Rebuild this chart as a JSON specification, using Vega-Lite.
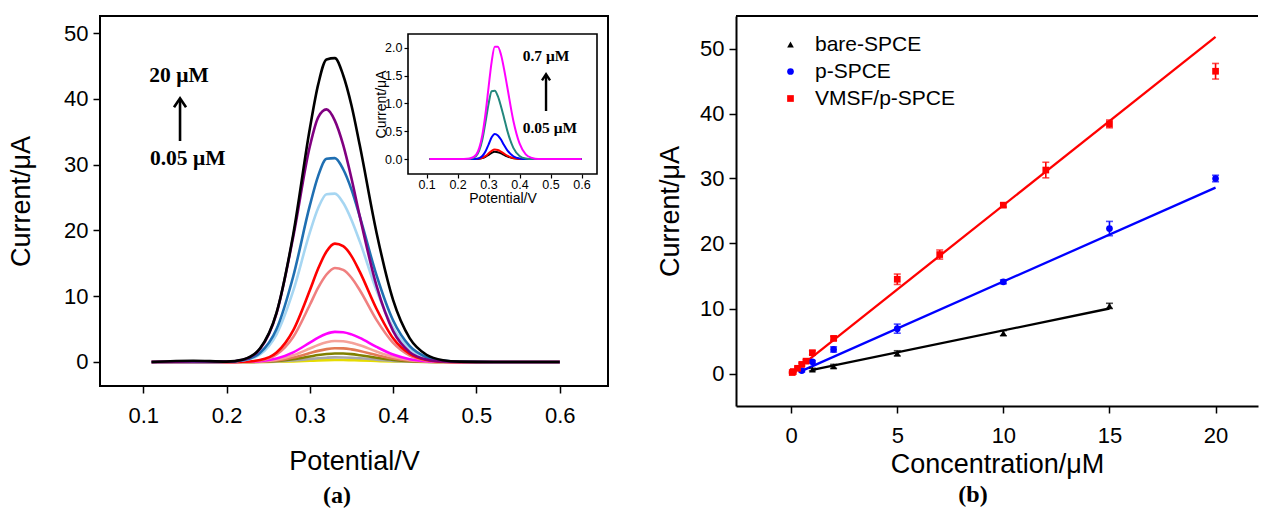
{
  "$schema": "https://vega.github.io/schema/vega-lite/v6.json",
  "background": "white",
  "padding": {"left": 6, "top": 15, "right": 0, "bottom": 0},
  "spacing": 47,
  "config": {
    "font": "Liberation Sans",
    "axis": {"grid": false, "labelFont": "Liberation Sans", "titleFont": "Liberation Sans", "labelColor": "#000", "titleColor": "#000", "tickColor": "#000", "domainColor": "#000", "titleFontWeight": "normal", "labelFontSize": 22, "titleFontSize": 27, "tickSize": 7, "tickWidth": 1.5, "domainWidth": 2, "labelFlush": false, "labelOverlap": false},
    "title": {"font": "Liberation Serif", "fontWeight": "bold", "fontSize": 24, "color": "#000"},
    "legend": {"labelFont": "Liberation Sans", "labelColor": "#000"}
  },
  "datasets": {
    "main": [
      {"c":"m01","x":0.11,"y":0},{"c":"m01","x":0.24,"y":0},{"c":"m01","x":0.26,"y":0.03},{"c":"m01","x":0.28,"y":0.10},{"c":"m01","x":0.30,"y":0.19},{"c":"m01","x":0.31,"y":0.24},{"c":"m01","x":0.32,"y":0.28},{"c":"m01","x":0.33,"y":0.30},{"c":"m01","x":0.34,"y":0.30},{"c":"m01","x":0.35,"y":0.27},{"c":"m01","x":0.36,"y":0.24},{"c":"m01","x":0.38,"y":0.15},{"c":"m01","x":0.40,"y":0.07},{"c":"m01","x":0.42,"y":0.03},{"c":"m01","x":0.44,"y":0.01},{"c":"m01","x":0.48,"y":0},{"c":"m01","x":0.60,"y":0},
      {"c":"m02","x":0.11,"y":0},{"c":"m02","x":0.22,"y":0},{"c":"m02","x":0.24,"y":0.02},{"c":"m02","x":0.26,"y":0.08},{"c":"m02","x":0.28,"y":0.22},{"c":"m02","x":0.30,"y":0.45},{"c":"m02","x":0.31,"y":0.56},{"c":"m02","x":0.32,"y":0.65},{"c":"m02","x":0.33,"y":0.70},{"c":"m02","x":0.34,"y":0.69},{"c":"m02","x":0.35,"y":0.64},{"c":"m02","x":0.36,"y":0.56},{"c":"m02","x":0.38,"y":0.35},{"c":"m02","x":0.40,"y":0.17},{"c":"m02","x":0.42,"y":0.07},{"c":"m02","x":0.44,"y":0.02},{"c":"m02","x":0.48,"y":0},{"c":"m02","x":0.60,"y":0},
      {"c":"m03","x":0.11,"y":0},{"c":"m03","x":0.22,"y":0},{"c":"m03","x":0.24,"y":0.04},{"c":"m03","x":0.26,"y":0.15},{"c":"m03","x":0.28,"y":0.41},{"c":"m03","x":0.30,"y":0.83},{"c":"m03","x":0.31,"y":1.05},{"c":"m03","x":0.32,"y":1.21},{"c":"m03","x":0.33,"y":1.29},{"c":"m03","x":0.34,"y":1.28},{"c":"m03","x":0.35,"y":1.19},{"c":"m03","x":0.36,"y":1.03},{"c":"m03","x":0.38,"y":0.65},{"c":"m03","x":0.40,"y":0.32},{"c":"m03","x":0.42,"y":0.12},{"c":"m03","x":0.44,"y":0.04},{"c":"m03","x":0.46,"y":0.01},{"c":"m03","x":0.48,"y":0},{"c":"m03","x":0.60,"y":0},
      {"c":"m04","x":0.11,"y":0},{"c":"m04","x":0.22,"y":0.01},{"c":"m04","x":0.24,"y":0.06},{"c":"m04","x":0.26,"y":0.24},{"c":"m04","x":0.28,"y":0.67},{"c":"m04","x":0.30,"y":1.35},{"c":"m04","x":0.31,"y":1.69},{"c":"m04","x":0.32,"y":1.96},{"c":"m04","x":0.33,"y":2.09},{"c":"m04","x":0.34,"y":2.07},{"c":"m04","x":0.35,"y":1.92},{"c":"m04","x":0.36,"y":1.67},{"c":"m04","x":0.38,"y":1.05},{"c":"m04","x":0.40,"y":0.52},{"c":"m04","x":0.42,"y":0.20},{"c":"m04","x":0.44,"y":0.06},{"c":"m04","x":0.46,"y":0.01},{"c":"m04","x":0.48,"y":0},{"c":"m04","x":0.60,"y":0},
      {"c":"m05","x":0.11,"y":0},{"c":"m05","x":0.22,"y":0.02},{"c":"m05","x":0.24,"y":0.09},{"c":"m05","x":0.26,"y":0.36},{"c":"m05","x":0.28,"y":1.02},{"c":"m05","x":0.30,"y":2.05},{"c":"m05","x":0.31,"y":2.58},{"c":"m05","x":0.32,"y":2.99},{"c":"m05","x":0.33,"y":3.19},{"c":"m05","x":0.34,"y":3.15},{"c":"m05","x":0.35,"y":2.92},{"c":"m05","x":0.36,"y":2.55},{"c":"m05","x":0.38,"y":1.60},{"c":"m05","x":0.40,"y":0.79},{"c":"m05","x":0.42,"y":0.30},{"c":"m05","x":0.44,"y":0.09},{"c":"m05","x":0.46,"y":0.02},{"c":"m05","x":0.48,"y":0},{"c":"m05","x":0.60,"y":0},
      {"c":"m06","x":0.11,"y":0},{"c":"m06","x":0.20,"y":0},{"c":"m06","x":0.22,"y":0.03},{"c":"m06","x":0.24,"y":0.13},{"c":"m06","x":0.26,"y":0.52},{"c":"m06","x":0.28,"y":1.46},{"c":"m06","x":0.30,"y":2.95},{"c":"m06","x":0.31,"y":3.71},{"c":"m06","x":0.32,"y":4.29},{"c":"m06","x":0.33,"y":4.58},{"c":"m06","x":0.34,"y":4.53},{"c":"m06","x":0.35,"y":4.2},{"c":"m06","x":0.36,"y":3.66},{"c":"m06","x":0.38,"y":2.30},{"c":"m06","x":0.40,"y":1.13},{"c":"m06","x":0.42,"y":0.43},{"c":"m06","x":0.44,"y":0.13},{"c":"m06","x":0.46,"y":0.03},{"c":"m06","x":0.48,"y":0},{"c":"m06","x":0.60,"y":0},
      {"c":"m07","x":0.11,"y":0},{"c":"m07","x":0.20,"y":0},{"c":"m07","x":0.22,"y":0.03},{"c":"m07","x":0.24,"y":0.23},{"c":"m07","x":0.26,"y":1.14},{"c":"m07","x":0.28,"y":3.8},{"c":"m07","x":0.30,"y":8.7},{"c":"m07","x":0.31,"y":11.3},{"c":"m07","x":0.32,"y":13.3},{"c":"m07","x":0.33,"y":14.3},{"c":"m07","x":0.34,"y":14.0},{"c":"m07","x":0.35,"y":12.8},{"c":"m07","x":0.36,"y":10.9},{"c":"m07","x":0.38,"y":6.4},{"c":"m07","x":0.40,"y":2.9},{"c":"m07","x":0.42,"y":0.98},{"c":"m07","x":0.44,"y":0.25},{"c":"m07","x":0.46,"y":0.05},{"c":"m07","x":0.48,"y":0},{"c":"m07","x":0.60,"y":0},
      {"c":"m08","x":0.11,"y":0},{"c":"m08","x":0.20,"y":0},{"c":"m08","x":0.22,"y":0.04},{"c":"m08","x":0.24,"y":0.29},{"c":"m08","x":0.26,"y":1.43},{"c":"m08","x":0.28,"y":4.8},{"c":"m08","x":0.30,"y":10.9},{"c":"m08","x":0.31,"y":14.2},{"c":"m08","x":0.32,"y":16.8},{"c":"m08","x":0.33,"y":18.0},{"c":"m08","x":0.34,"y":17.6},{"c":"m08","x":0.35,"y":16.1},{"c":"m08","x":0.36,"y":13.7},{"c":"m08","x":0.38,"y":8.1},{"c":"m08","x":0.40,"y":3.6},{"c":"m08","x":0.42,"y":1.23},{"c":"m08","x":0.44,"y":0.32},{"c":"m08","x":0.46,"y":0.06},{"c":"m08","x":0.48,"y":0},{"c":"m08","x":0.60,"y":0},
      {"c":"m09","x":0.11,"y":0},{"c":"m09","x":0.18,"y":0},{"c":"m09","x":0.20,"y":0.03},{"c":"m09","x":0.22,"y":0.22},{"c":"m09","x":0.24,"y":1.13},{"c":"m09","x":0.26,"y":4.2},{"c":"m09","x":0.28,"y":10.8},{"c":"m09","x":0.30,"y":19.7},{"c":"m09","x":0.31,"y":23.4},{"c":"m09","x":0.32,"y":25.5},{"c":"m09","x":0.33,"y":25.6},{"c":"m09","x":0.34,"y":24.2},{"c":"m09","x":0.35,"y":21.6},{"c":"m09","x":0.36,"y":18.3},{"c":"m09","x":0.38,"y":10.9},{"c":"m09","x":0.40,"y":5.2},{"c":"m09","x":0.42,"y":2.0},{"c":"m09","x":0.44,"y":0.6},{"c":"m09","x":0.46,"y":0.15},{"c":"m09","x":0.48,"y":0.03},{"c":"m09","x":0.52,"y":0},{"c":"m09","x":0.60,"y":0},
      {"c":"m10","x":0.11,"y":0},{"c":"m10","x":0.18,"y":0},{"c":"m10","x":0.20,"y":0.04},{"c":"m10","x":0.22,"y":0.26},{"c":"m10","x":0.24,"y":1.37},{"c":"m10","x":0.26,"y":5.0},{"c":"m10","x":0.28,"y":13.0},{"c":"m10","x":0.30,"y":23.8},{"c":"m10","x":0.31,"y":28.3},{"c":"m10","x":0.32,"y":30.9},{"c":"m10","x":0.33,"y":31.0},{"c":"m10","x":0.34,"y":29.3},{"c":"m10","x":0.35,"y":26.2},{"c":"m10","x":0.36,"y":22.1},{"c":"m10","x":0.38,"y":13.2},{"c":"m10","x":0.40,"y":6.3},{"c":"m10","x":0.42,"y":2.4},{"c":"m10","x":0.44,"y":0.73},{"c":"m10","x":0.46,"y":0.18},{"c":"m10","x":0.48,"y":0.04},{"c":"m10","x":0.52,"y":0},{"c":"m10","x":0.60,"y":0},
      {"c":"m11","x":0.11,"y":0},{"c":"m11","x":0.16,"y":0.1},{"c":"m11","x":0.20,"y":0.05},{"c":"m11","x":0.22,"y":0.35},{"c":"m11","x":0.24,"y":1.96},{"c":"m11","x":0.26,"y":7.4},{"c":"m11","x":0.28,"y":19.0},{"c":"m11","x":0.30,"y":32.8},{"c":"m11","x":0.31,"y":37.2},{"c":"m11","x":0.32,"y":38.4},{"c":"m11","x":0.33,"y":36.7},{"c":"m11","x":0.34,"y":33.0},{"c":"m11","x":0.35,"y":27.9},{"c":"m11","x":0.36,"y":22.1},{"c":"m11","x":0.38,"y":11.6},{"c":"m11","x":0.40,"y":4.7},{"c":"m11","x":0.42,"y":1.5},{"c":"m11","x":0.44,"y":0.37},{"c":"m11","x":0.46,"y":0.07},{"c":"m11","x":0.48,"y":0},{"c":"m11","x":0.60,"y":0},
      {"c":"m12","x":0.11,"y":0},{"c":"m12","x":0.16,"y":0.2},{"c":"m12","x":0.20,"y":0.06},{"c":"m12","x":0.22,"y":0.39},{"c":"m12","x":0.24,"y":2.04},{"c":"m12","x":0.26,"y":7.5},{"c":"m12","x":0.28,"y":19.4},{"c":"m12","x":0.30,"y":35.5},{"c":"m12","x":0.31,"y":42.2},{"c":"m12","x":0.32,"y":46.0},{"c":"m12","x":0.33,"y":46.2},{"c":"m12","x":0.34,"y":43.6},{"c":"m12","x":0.35,"y":39.0},{"c":"m12","x":0.36,"y":32.9},{"c":"m12","x":0.38,"y":19.7},{"c":"m12","x":0.40,"y":9.4},{"c":"m12","x":0.42,"y":3.6},{"c":"m12","x":0.44,"y":1.1},{"c":"m12","x":0.46,"y":0.27},{"c":"m12","x":0.48,"y":0.06},{"c":"m12","x":0.52,"y":0},{"c":"m12","x":0.60,"y":0}
    ],
    "inset": [
      {"c":"i1","x":0.11,"y":0},{"c":"i1","x":0.26,"y":0},{"c":"i1","x":0.27,"y":0.005},{"c":"i1","x":0.28,"y":0.016},{"c":"i1","x":0.29,"y":0.039},{"c":"i1","x":0.30,"y":0.075},{"c":"i1","x":0.31,"y":0.112},{"c":"i1","x":0.32,"y":0.13},{"c":"i1","x":0.33,"y":0.123},{"c":"i1","x":0.34,"y":0.101},{"c":"i1","x":0.35,"y":0.073},{"c":"i1","x":0.36,"y":0.046},{"c":"i1","x":0.38,"y":0.012},{"c":"i1","x":0.40,"y":0.002},{"c":"i1","x":0.42,"y":0},{"c":"i1","x":0.60,"y":0},
      {"c":"i2","x":0.11,"y":0},{"c":"i2","x":0.26,"y":0},{"c":"i2","x":0.27,"y":0.007},{"c":"i2","x":0.28,"y":0.021},{"c":"i2","x":0.29,"y":0.051},{"c":"i2","x":0.30,"y":0.098},{"c":"i2","x":0.31,"y":0.146},{"c":"i2","x":0.32,"y":0.17},{"c":"i2","x":0.33,"y":0.161},{"c":"i2","x":0.34,"y":0.133},{"c":"i2","x":0.35,"y":0.096},{"c":"i2","x":0.36,"y":0.06},{"c":"i2","x":0.38,"y":0.016},{"c":"i2","x":0.40,"y":0.002},{"c":"i2","x":0.42,"y":0},{"c":"i2","x":0.60,"y":0},
      {"c":"i3","x":0.11,"y":0},{"c":"i3","x":0.25,"y":0},{"c":"i3","x":0.26,"y":0.004},{"c":"i3","x":0.27,"y":0.017},{"c":"i3","x":0.28,"y":0.055},{"c":"i3","x":0.29,"y":0.135},{"c":"i3","x":0.30,"y":0.26},{"c":"i3","x":0.31,"y":0.39},{"c":"i3","x":0.32,"y":0.45},{"c":"i3","x":0.33,"y":0.425},{"c":"i3","x":0.34,"y":0.35},{"c":"i3","x":0.35,"y":0.25},{"c":"i3","x":0.36,"y":0.16},{"c":"i3","x":0.38,"y":0.05},{"c":"i3","x":0.40,"y":0.01},{"c":"i3","x":0.42,"y":0},{"c":"i3","x":0.60,"y":0},
      {"c":"i4","x":0.11,"y":0},{"c":"i4","x":0.23,"y":0},{"c":"i4","x":0.24,"y":0.004},{"c":"i4","x":0.26,"y":0.055},{"c":"i4","x":0.27,"y":0.155},{"c":"i4","x":0.28,"y":0.35},{"c":"i4","x":0.29,"y":0.66},{"c":"i4","x":0.30,"y":0.99},{"c":"i4","x":0.31,"y":1.22},{"c":"i4","x":0.32,"y":1.23},{"c":"i4","x":0.33,"y":1.13},{"c":"i4","x":0.34,"y":0.95},{"c":"i4","x":0.35,"y":0.74},{"c":"i4","x":0.36,"y":0.52},{"c":"i4","x":0.38,"y":0.20},{"c":"i4","x":0.40,"y":0.055},{"c":"i4","x":0.42,"y":0.01},{"c":"i4","x":0.44,"y":0},{"c":"i4","x":0.60,"y":0},
      {"c":"i5","x":0.11,"y":0},{"c":"i5","x":0.22,"y":0},{"c":"i5","x":0.24,"y":0.007},{"c":"i5","x":0.26,"y":0.077},{"c":"i5","x":0.27,"y":0.20},{"c":"i5","x":0.28,"y":0.435},{"c":"i5","x":0.29,"y":0.81},{"c":"i5","x":0.30,"y":1.29},{"c":"i5","x":0.31,"y":1.75},{"c":"i5","x":0.32,"y":2.02},{"c":"i5","x":0.33,"y":2.02},{"c":"i5","x":0.34,"y":1.88},{"c":"i5","x":0.35,"y":1.62},{"c":"i5","x":0.36,"y":1.31},{"c":"i5","x":0.38,"y":0.69},{"c":"i5","x":0.40,"y":0.28},{"c":"i5","x":0.42,"y":0.084},{"c":"i5","x":0.44,"y":0.02},{"c":"i5","x":0.46,"y":0},{"c":"i5","x":0.60,"y":0}
    ],
    "pts": [
      {"s":"bare-SPCE","x":1,"y":0.6,"e":0.2},{"s":"bare-SPCE","x":2,"y":1.1,"e":0.3},{"s":"bare-SPCE","x":5,"y":3.1,"e":0.4},{"s":"bare-SPCE","x":10,"y":6.2,"e":0.4},{"s":"bare-SPCE","x":15,"y":10.4,"e":0.4},
      {"s":"p-SPCE","x":0.5,"y":0.45,"e":0.2},{"s":"p-SPCE","x":1,"y":1.8,"e":0.2},{"s":"p-SPCE","x":2,"y":3.7,"e":0.4},{"s":"p-SPCE","x":5,"y":6.9,"e":0.7},{"s":"p-SPCE","x":10,"y":14.1,"e":0.3},{"s":"p-SPCE","x":15,"y":22.3,"e":1.1},{"s":"p-SPCE","x":20,"y":30.0,"e":0.5},
      {"s":"VMSF/p-SPCE","x":0.05,"y":0.15,"e":0.1},{"s":"VMSF/p-SPCE","x":0.1,"y":0.3,"e":0.1},{"s":"VMSF/p-SPCE","x":0.3,"y":0.8,"e":0.2},{"s":"VMSF/p-SPCE","x":0.5,"y":1.4,"e":0.2},{"s":"VMSF/p-SPCE","x":0.7,"y":1.9,"e":0.2},{"s":"VMSF/p-SPCE","x":1,"y":3.2,"e":0.3},{"s":"VMSF/p-SPCE","x":2,"y":5.4,"e":0.3},{"s":"VMSF/p-SPCE","x":5,"y":14.5,"e":0.8},{"s":"VMSF/p-SPCE","x":7,"y":18.3,"e":0.7},{"s":"VMSF/p-SPCE","x":10,"y":25.9,"e":0.3},{"s":"VMSF/p-SPCE","x":12,"y":31.3,"e":1.2},{"s":"VMSF/p-SPCE","x":15,"y":38.4,"e":0.6},{"s":"VMSF/p-SPCE","x":20,"y":46.5,"e":1.2}
    ],
    "fits": [
      {"s":"bare-SPCE","x":1,"y":0.55},{"s":"bare-SPCE","x":15,"y":10.0},
      {"s":"p-SPCE","x":0.5,"y":0.4},{"s":"p-SPCE","x":20,"y":28.6},
      {"s":"VMSF/p-SPCE","x":0.05,"y":0.1},{"s":"VMSF/p-SPCE","x":20,"y":51.8}
    ],
    "one": [{}]
  },
  "hconcat": [
    {
      "width": 508,
      "height": 370,
      "view": {"stroke": "#000", "strokeWidth": 2},
      "title": {"text": "(a)", "orient": "bottom", "offset": 10, "dx": -17},
      "layer": [
        {
          "layer": [
            {
              "data": {"name": "main"},
              "mark": {"type": "line", "interpolate": "monotone", "strokeWidth": 2.6},
              "encoding": {
                "x": {"field": "x", "type": "quantitative", "scale": {"domain": [0.048, 0.658], "nice": false, "zero": false},
                      "axis": {"title": "Potential/V", "values": [0.1, 0.2, 0.3, 0.4, 0.5, 0.6], "format": ".1f", "domain": false, "labelPadding": 12, "titlePadding": 22}},
                "y": {"field": "y", "type": "quantitative", "scale": {"domain": [-3.65, 52.6], "nice": false, "zero": false},
                      "axis": {"title": "Current/μA", "values": [0, 10, 20, 30, 40, 50], "domain": false, "labelPadding": 5, "titlePadding": 28}},
                "color": {"field": "c", "type": "nominal", "legend": null,
                          "scale": {"domain": ["m01","m02","m03","m04","m05","m06","m07","m08","m09","m10","m11","m12"],
                                    "range": ["#e6dc00","#a8a8a8","#808000","#e27a55","#f5a29a","#ff00ff","#f08080","#ff0000","#a6d6f2","#1f6fb2","#800080","#000000"]}}
              }
            },
            {
              "data": {"name": "one"},
              "mark": {"type": "text", "text": "20 μM", "font": "Liberation Serif", "fontWeight": "bold", "fontSize": 21.5, "align": "center", "baseline": "middle", "color": "#000"},
              "encoding": {"x": {"datum": 0.1429}, "y": {"datum": 43.5}}
            },
            {
              "data": {"name": "one"},
              "mark": {"type": "text", "text": "0.05 μM", "font": "Liberation Serif", "fontWeight": "bold", "fontSize": 21.5, "align": "center", "baseline": "middle", "color": "#000"},
              "encoding": {"x": {"datum": 0.1533}, "y": {"datum": 30.8}}
            },
            {
              "data": {"name": "one"},
              "mark": {"type": "rule", "strokeWidth": 2.6, "color": "#000"},
              "encoding": {"x": {"datum": 0.1441}, "y": {"datum": 33.6}, "y2": {"datum": 39.9}}
            },
            {
              "data": {"name": "one"},
              "mark": {"type": "point", "shape": "M-0.6,0.9L0,0L0.6,0.9", "size": 400, "filled": false, "color": "#000", "strokeWidth": 2.6, "opacity": 1},
              "encoding": {"x": {"datum": 0.1441}, "y": {"datum": 40.1}}
            }
          ]
        },
        {
          "layer": [
            {
              "data": {"name": "inset"},
              "mark": {"type": "line", "interpolate": "monotone", "strokeWidth": 2},
              "encoding": {
                "x": {"field": "x", "type": "quantitative", "scale": {"domain": [0.04, 0.65], "range": [308, 497], "nice": false, "zero": false},
                      "axis": {"orient": "bottom", "offset": -212, "title": "Potential/V", "values": [0.1, 0.2, 0.3, 0.4, 0.5, 0.6], "format": ".1f", "domain": false, "labelFontSize": 12.5, "titleFontSize": 14, "tickSize": 4, "tickWidth": 1.2, "labelPadding": 0, "titlePadding": 1}},
                "y": {"field": "y", "type": "quantitative", "scale": {"domain": [-0.27, 2.25], "range": [158, 18], "nice": false, "zero": false},
                      "axis": {"orient": "left", "offset": -308, "title": "Current/μA", "values": [0, 0.5, 1, 1.5, 2], "format": ".1f", "domain": false, "labelFontSize": 12.5, "titleFontSize": 14, "tickSize": 4, "tickWidth": 1.2, "labelPadding": 2, "titlePadding": -4}},
                "color": {"field": "c", "type": "nominal", "legend": null,
                          "scale": {"domain": ["i1","i2","i3","i4","i5"], "range": ["#000000","#ff0000","#0000ff","#23877d","#ff00ff"]}}
              }
            },
            {
              "data": {"name": "one"},
              "mark": {"type": "rect", "fillOpacity": 0, "stroke": "#000", "strokeWidth": 1.6},
              "encoding": {"x": {"datum": 0.04}, "x2": {"datum": 0.65}, "y": {"datum": -0.27}, "y2": {"datum": 2.25}}
            },
            {
              "data": {"name": "one"},
              "mark": {"type": "text", "text": "0.7 μM", "font": "Liberation Serif", "fontWeight": "bold", "fontSize": 15.5, "align": "center", "baseline": "middle", "color": "#000"},
              "encoding": {"x": {"datum": 0.4855}, "y": {"datum": 1.854}}
            },
            {
              "data": {"name": "one"},
              "mark": {"type": "text", "text": "0.05 μM", "font": "Liberation Serif", "fontWeight": "bold", "fontSize": 15.5, "align": "center", "baseline": "middle", "color": "#000"},
              "encoding": {"x": {"datum": 0.498}, "y": {"datum": 0.563}}
            },
            {
              "data": {"name": "one"},
              "mark": {"type": "rule", "strokeWidth": 2.4, "color": "#000"},
              "encoding": {"x": {"datum": 0.4855}, "y": {"datum": 0.864}, "y2": {"datum": 1.5}}
            },
            {
              "data": {"name": "one"},
              "mark": {"type": "point", "shape": "M-0.6,0.9L0,0L0.6,0.9", "size": 180, "filled": false, "color": "#000", "strokeWidth": 2.4, "opacity": 1},
              "encoding": {"x": {"datum": 0.4855}, "y": {"datum": 1.525}}
            }
          ]
        }
      ],
      "resolve": {"scale": {"x": "independent", "y": "independent", "color": "independent"}, "axis": {"x": "independent", "y": "independent"}}
    },
    {
      "width": 522,
      "height": 390,
      "view": {"stroke": null},
      "title": {"text": "(b)", "orient": "bottom", "offset": 6, "dx": -24},
      "layer": [
        {
          "data": {"name": "fits"},
          "mark": {"type": "line", "strokeWidth": 2.3},
          "encoding": {
            "x": {"field": "x", "type": "quantitative", "scale": {"domain": [-2.6, 22], "nice": false, "zero": false},
                  "axis": {"title": "Concentration/μM", "values": [0, 5, 10, 15, 20], "labelPadding": 12, "titlePadding": 5}},
            "y": {"field": "y", "type": "quantitative", "scale": {"domain": [-5, 55], "nice": false, "zero": false},
                  "axis": {"title": "Current/μA", "values": [0, 10, 20, 30, 40, 50], "labelPadding": 5, "titlePadding": 15}},
            "color": {"field": "s", "type": "nominal", "legend": null,
                      "scale": {"domain": ["bare-SPCE", "p-SPCE", "VMSF/p-SPCE"], "range": ["#000000", "#0000ff", "#ff0000"]}}
          }
        },
        {
          "data": {"name": "one"},
          "mark": {"type": "rule", "strokeWidth": 2, "color": "#000"},
          "encoding": {"x": {"datum": -2.6}, "x2": {"datum": 22}, "y": {"datum": 55}}
        },
        {
          "data": {"name": "pts"},
          "mark": {"type": "errorbar", "ticks": true, "size": 7, "thickness": 1.6},
          "encoding": {
            "x": {"field": "x", "type": "quantitative", "title": "Concentration/μM"},
            "y": {"field": "y", "type": "quantitative", "title": "Current/μA"},
            "yError": {"field": "e"},
            "color": {"field": "s", "type": "nominal", "legend": null,
                      "scale": {"domain": ["bare-SPCE", "p-SPCE", "VMSF/p-SPCE"], "range": ["#000000", "#0000ff", "#ff0000"]}}
          }
        },
        {
          "data": {"name": "pts"},
          "mark": {"type": "point", "filled": true, "size": 45, "opacity": 1},
          "encoding": {
            "x": {"field": "x", "type": "quantitative", "title": "Concentration/μM"},
            "y": {"field": "y", "type": "quantitative", "title": "Current/μA"},
            "color": {"field": "s", "type": "nominal",
                      "scale": {"domain": ["bare-SPCE", "p-SPCE", "VMSF/p-SPCE"], "range": ["#000000", "#0000ff", "#ff0000"]},
                      "legend": {"title": null, "orient": "none", "legendX": 44, "legendY": 18, "labelFontSize": 21, "symbolSize": 45, "rowPadding": 5, "labelOffset": 14, "padding": 0}},
            "shape": {"field": "s", "type": "nominal",
                      "scale": {"domain": ["bare-SPCE", "p-SPCE", "VMSF/p-SPCE"], "range": ["triangle-up", "circle", "square"]},
                      "legend": {"title": null, "orient": "none", "legendX": 44, "legendY": 18, "labelFontSize": 21, "symbolSize": 45, "rowPadding": 5, "labelOffset": 14, "padding": 0}}
          }
        }
      ],
      "resolve": {"scale": {"color": "independent", "shape": "independent"}}
    }
  ]
}
